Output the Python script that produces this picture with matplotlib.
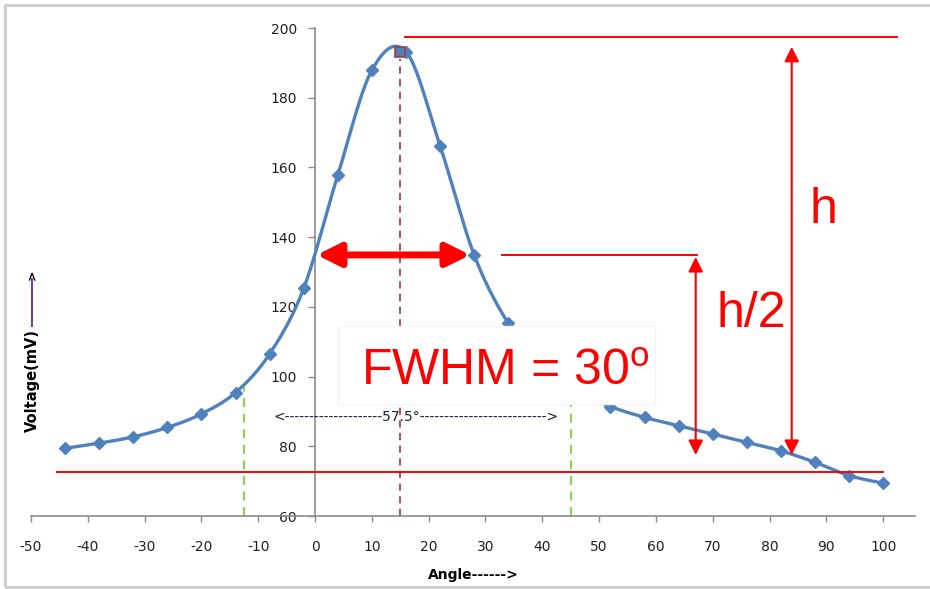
import numpy as np
import matplotlib.pyplot as plt
from matplotlib.patches import Rectangle

plt.rcParams['font.family'] = ['Liberation Sans', 'DejaVu Sans']
plt.rcParams['mathtext.fontset'] = 'custom'
plt.rcParams['mathtext.rm'] = 'Liberation Sans'
plt.rcParams['axes.unicode_minus'] = False

# measured detector voltage against angle
angle = [-44, -38, -32, -26, -20, -14, -8, -2, 4, 10, 16, 22, 28, 34,
         40, 46, 52, 58, 64, 70, 76, 82, 88, 94, 100]
voltage = [79.4, 80.9, 82.7, 85.4, 89.3, 95.4, 106.5, 125.3, 157.8, 187.9,
           193.2, 166.2, 134.9, 115.3, 103.5, 96.0, 91.4, 88.3, 85.9, 83.5,
           81.1, 78.7, 75.4, 71.6, 69.4]

x_ticks = list(range(-50, 101, 10))
y_ticks = list(range(60, 201, 20))

peak_angle, peak_volt = 15, 193.2
top_level = 197.4
half_level = 134.9
base_level = 72.7
fwhm_left, fwhm_right = 0.3, 27.3
green_left, green_right = -12.5, 45
green_left_top, green_right_top = 97.0, 96.0
spread_label = '<' + '-' * 20 + '57.5\u00b0' + '-' * 26 + '>'

axis_font = 'DejaVu Sans'


def catmull_rom(xs, ys, n=24):
    # smooth curve through every point, like a spreadsheet "smoothed line"
    px = np.r_[xs[0], xs, xs[-1]].astype(float)
    py = np.r_[ys[0], ys, ys[-1]].astype(float)
    t = np.linspace(0, 1, n)[:, None]
    out_x, out_y = [], []
    for i in range(1, len(px) - 2):
        for arr, out in ((px, out_x), (py, out_y)):
            p0, p1, p2, p3 = arr[i - 1], arr[i], arr[i + 1], arr[i + 2]
            seg = 0.5 * (2 * p1 + (-p0 + p2) * t
                         + (2 * p0 - 5 * p1 + 4 * p2 - p3) * t ** 2
                         + (-p0 + 3 * p1 - 3 * p2 + p3) * t ** 3)
            out.extend(seg.ravel()[:-1] if i < len(px) - 3 else seg.ravel())
    return np.array(out_x), np.array(out_y)


fig = plt.figure(figsize=(9.3, 5.89), dpi=100)
ax = fig.add_axes([31 / 930, 1 - 516 / 589, (915 - 31) / 930, 488 / 589])
ax.set_xlim(-50, 105.6)
ax.set_ylim(60, 200)

# frame around the whole chart
fig.patches.append(Rectangle((5 / 930, 2 / 589), 1.2, 1 - 7 / 589, transform=fig.transFigure,
                             fill=False, ec='#cccccc', lw=2, zorder=0))

for s in ['top', 'right']:
    ax.spines[s].set_visible(False)
ax.spines['left'].set_position(('data', 0))
for s in ['left', 'bottom']:
    ax.spines[s].set_color('#8c8c8c')
    ax.spines[s].set_linewidth(1.2)
ax.set_xticks(x_ticks)
ax.set_yticks(y_ticks)
ax.tick_params(axis='y', direction='out', length=5, width=1, color='#8c8c8c',
               pad=8, labelsize=10, labelcolor='#202020')
ax.tick_params(axis='x', direction='out', length=4, width=1, color='#8c8c8c',
               pad=13, labelsize=10, labelcolor='#202020')
for lab in ax.get_xticklabels() + ax.get_yticklabels():
    lab.set_fontfamily(axis_font)

# the data curve
sx, sy = catmull_rom(angle, voltage)
ax.plot(sx, sy, color='#4f81bd', lw=2.4, zorder=3, solid_capstyle='round')
ax.plot(angle, voltage, 'D', color='#4f81bd', ms=6.5, zorder=3)
ax.plot([peak_angle], [peak_volt], 's', color='#4f81bd', mec='#a0404a', mew=1.2, ms=7, zorder=4)

# peak, half-max and baseline markers
ax.plot([peak_angle, peak_angle], [60, peak_volt - 2], ls=(0, (4, 3)), color='#b24040', lw=1.3, zorder=2)
ax.plot([green_left, green_left], [60, green_left_top], ls=(0, (4, 3)), color='#92d050', lw=1.6, zorder=2)
ax.plot([green_right, green_right], [60, green_right_top], ls=(0, (4, 3)), color='#92d050', lw=1.6, zorder=2)

ax.plot([15.8, 102.5], [top_level, top_level], color='red', lw=1.4, zorder=4)
ax.plot([32.9, 67.2], [half_level, half_level], color='red', lw=1.4, zorder=4)
ax.plot([-45.4, 99.9], [base_level, base_level], color='red', lw=1.4, zorder=4)

ax.annotate('', xy=(83.9, 194.6), xytext=(83.9, 77.5),
            arrowprops=dict(arrowstyle='<|-|>', color='red', lw=1.5, mutation_scale=22,
                            shrinkA=0, shrinkB=0), zorder=4)
ax.annotate('', xy=(67.0, 134.3), xytext=(67.0, 77.5),
            arrowprops=dict(arrowstyle='<|-|>', color='red', lw=1.5, mutation_scale=22,
                            shrinkA=0, shrinkB=0), zorder=4)
ax.annotate('', xy=(fwhm_left, half_level), xytext=(fwhm_right, half_level),
            arrowprops=dict(arrowstyle='<|-|>,head_length=1.0,head_width=0.5', color='red', lw=5,
                            mutation_scale=14, shrinkA=0, shrinkB=0), zorder=4)

# label panel
ax.add_patch(Rectangle((4.05, 92.1), 55.85, 22.4, facecolor='white', edgecolor='#f4f4f4', lw=1, zorder=5))
ax.text(8.1, 97.6, r'FWHM = 30$^{\rm o}$', color='red', fontsize=36, va='baseline', ha='left', zorder=6)
ax.text(87.1, 144.0, 'h', color='red', fontsize=36, va='baseline', ha='left', zorder=6)
ax.text(70.7, 114.2, 'h/2', color='red', fontsize=36, va='baseline', ha='left', zorder=6)

ax.text(-7.4, 88.5, spread_label, color='#1f1f40', fontsize=10,
        family=axis_font, ha='left', va='center', zorder=6)

# axis titles
fig.text(473 / 930, 1 - 575 / 589, 'Angle------>', fontsize=10, fontweight='bold',
         family=axis_font, ha='center', va='center')
fig.text(32 / 930, 1 - 380 / 589, 'Voltage(mV)', fontsize=10.5, fontweight='bold',
         family=axis_font, rotation=90, ha='center', va='center')
fig.lines.append(plt.Line2D([32 / 930, 32 / 930], [1 - 326 / 589, 1 - 279 / 589],
                            transform=fig.transFigure, color='#8030a0', lw=1.4))
fig.text(32.5 / 930, 1 - 275 / 589, '>', fontsize=9, fontweight='bold', rotation=90,
         family=axis_font, ha='center', va='center')

fig.savefig('out.png', dpi=100)
